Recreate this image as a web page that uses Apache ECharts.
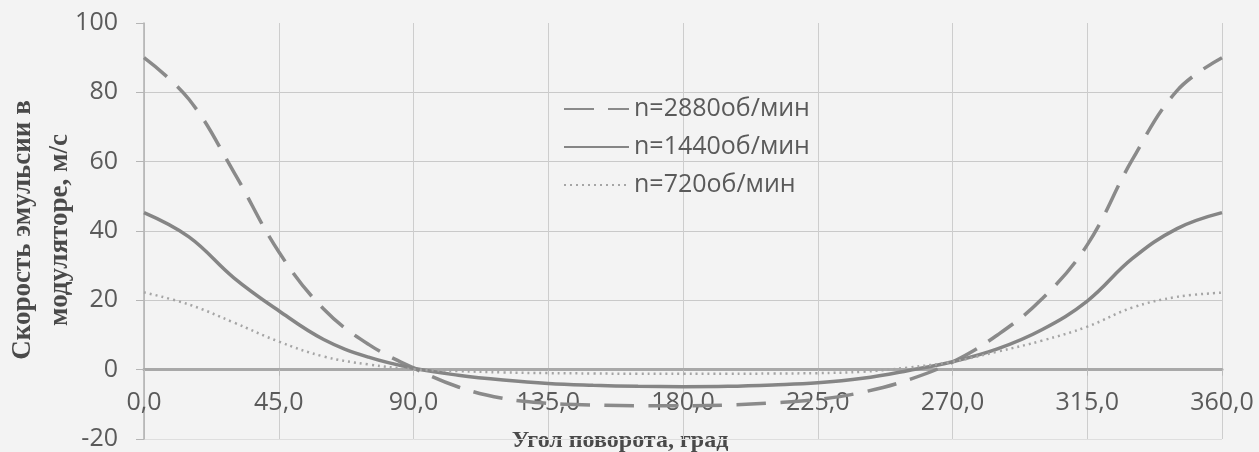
<!DOCTYPE html>
<html>
<head>
<meta charset="utf-8">
<script src="https://cdn.jsdelivr.net/npm/echarts@6/dist/echarts.min.js"></script>
<style>
html,body{margin:0;padding:0;background:#f3f3f3;}
#chart{width:1259px;height:452px;}
</style>
</head>
<body>
<div id="chart"></div>
<script>
// Angle of rotation, degrees
const angles = [0,15,30,45,60,75,90,105,120,135,150,165,180,195,210,225,240,255,270,285,300,315,330,345,360];
// n = 2880 rpm (dashed)
const v2880 = [90,78,57,34,17.5,7.3,0.5,-5,-8.3,-9.7,-10.2,-10.4,-10.4,-10.2,-9.6,-8.6,-6.5,-3,2.2,10,20.5,36,60.5,80.5,90];
// n = 1440 rpm (solid)
const v1440 = [45.3,38.3,26.5,17,8.7,3.6,0.4,-1.6,-3,-4,-4.5,-4.8,-4.9,-4.8,-4.4,-3.8,-2.5,-0.3,2.3,6,11.6,19.8,32,40.7,45.3];
// n = 720 rpm (dotted)
const v720 = [22.3,18.8,13.6,8.1,3.8,1.5,0.1,-0.4,-0.8,-1,-1.1,-1.2,-1.2,-1.2,-1.1,-1,-0.6,0.6,2.3,5.2,8.4,12.4,17.9,21,22.2];

const seriesNames = ['n=2880об/мин','n=1440об/мин','n=720об/мин'];
const xTicks = [0,45,90,135,180,225,270,315,360];
const yTicks = [-20,0,20,40,60,80,100];
const yTitle = 'Скорость эмульсии в\nмодуляторе, м/с';
const xTitle = 'Угол поворота, град';

const pair = (arr) => angles.map((a,i)=>[a,arr[i]]);

const chart = echarts.init(document.getElementById('chart'));
const labelFont = {fontFamily:'Open Sans', fontSize:25, color:'#5a5a5a'};
const gridTop = 23, gridBottom = 13, H = 452;
const plotH = H - gridTop - gridBottom;
const zeroOffset = -plotH * (0 - yTicks[0]) / (yTicks[yTicks.length-1] - yTicks[0]);
chart.setOption({
  backgroundColor:'#f3f3f3',
  animation:false,
  grid:{left:144,right:37,top:gridTop,bottom:gridBottom,containLabel:false,outerBoundsMode:'none'},
  legend:{
    orient:'vertical', left:563, top:94, padding:0,
    itemWidth:65, itemHeight:14, itemGap:8,
    itemStyle:{opacity:0},
    textStyle:{fontFamily:'Open Sans', fontSize:25, color:'#5a5a5a', lineHeight:30},
    data:seriesNames
  },
  xAxis:{
    type:'value', min:xTicks[0], max:xTicks[xTicks.length-1], interval:45,
    position:'bottom', offset:zeroOffset,
    axisLine:{onZero:false, lineStyle:{color:'#a8a8a8', width:3}},
    axisTick:{show:true, length:6, lineStyle:{color:'#bbb'}},
    axisLabel:Object.assign({show:true, margin:21, formatter:(v)=>v.toFixed(1).replace('.',',')}, labelFont),
    splitLine:{show:true, lineStyle:{color:'#cdcdcd', width:1}}
  },
  yAxis:{
    type:'value', min:yTicks[0], max:yTicks[yTicks.length-1], interval:20,
    axisLine:{show:true, onZero:false, lineStyle:{color:'#b0b0b0', width:1.5}},
    axisTick:{show:true, length:8, lineStyle:{color:'#b5b5b5'}},
    axisLabel:Object.assign({margin:26}, labelFont),
    splitLine:{show:true, lineStyle:{color:['#dedede','#c9c9c9','#c9c9c9','#c9c9c9','#c9c9c9','#c9c9c9','rgba(0,0,0,0)'], width:1}}
  },
  graphic:[
    {type:'text', x:42, y:230, rotation:Math.PI/2,
     style:{text:yTitle, font:'bold 27px "Liberation Serif"', fill:'#4a4a4a', textAlign:'center', textVerticalAlign:'middle', lineHeight:37}},
    {type:'text', x:620, y:441,
     style:{text:xTitle, font:'bold 24px "Liberation Serif"', fill:'#4a4a4a', textAlign:'center', textVerticalAlign:'middle'}}
  ],
  series:[
    {name:seriesNames[0], type:'line', data:pair(v2880), smooth:0.4, symbol:'none',
     lineStyle:{color:'#8a8a8a', width:3.5, type:[30,14]}, itemStyle:{color:'#8a8a8a'}},
    {name:seriesNames[1], type:'line', data:pair(v1440), smooth:0.4, symbol:'none',
     lineStyle:{color:'#858585', width:3.5, type:'solid'}, itemStyle:{color:'#858585'}},
    {name:seriesNames[2], type:'line', data:pair(v720), smooth:0.4, symbol:'none',
     lineStyle:{color:'#a5a5a5', width:2.5, type:[2,4]}, itemStyle:{color:'#a5a5a5'}}
  ]
});
</script>
</body>
</html>
